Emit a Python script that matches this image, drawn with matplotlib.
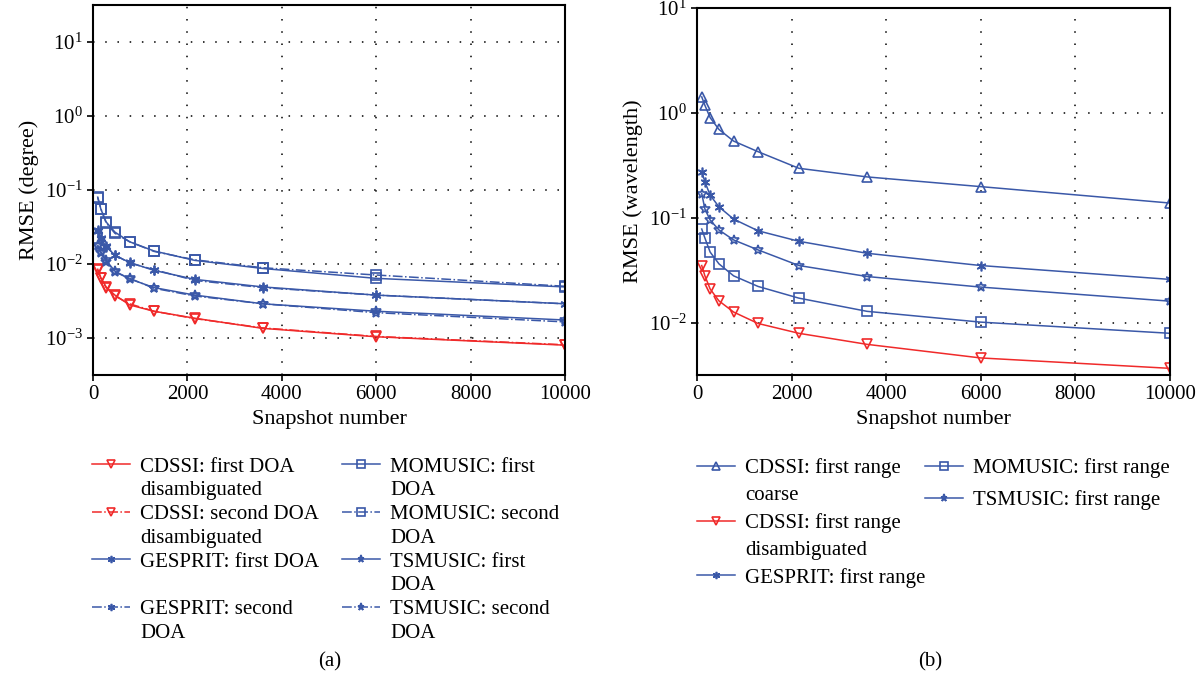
import matplotlib
matplotlib.use("Agg")
import matplotlib.pyplot as plt
from matplotlib.lines import Line2D

plt.rcParams['font.family'] = ['Liberation Serif', 'DejaVu Serif']
plt.rcParams['mathtext.fontset'] = 'custom'
plt.rcParams['mathtext.rm'] = 'Liberation Serif'
plt.rcParams['mathtext.it'] = 'Liberation Serif:italic'

# snapshot numbers
snapshots = [100, 167, 278, 464, 774, 1292, 2154, 3594, 5995, 10000]

# (a) RMSE in degree
cdssi_doa1 = [0.0085, 0.0065, 0.0049, 0.0038, 0.0028, 0.0023, 0.00185, 0.00135, 0.00104, 0.00080]
cdssi_doa2 = [0.0083, 0.0064, 0.0048, 0.0037, 0.0029, 0.0023, 0.00183, 0.00137, 0.00105, 0.00081]
gesprit_doa1 = [0.0283, 0.0216, 0.0174, 0.0131, 0.0105, 0.0082, 0.0062, 0.0049, 0.0038, 0.0029]
gesprit_doa2 = [0.0290, 0.0225, 0.0170, 0.0133, 0.0103, 0.0084, 0.0060, 0.0048, 0.0038, 0.0029]
momusic_doa1 = [0.080, 0.055, 0.037, 0.027, 0.020, 0.0150, 0.0112, 0.0087, 0.0064, 0.0049]
momusic_doa2 = [0.079, 0.056, 0.036, 0.026, 0.020, 0.0148, 0.0114, 0.0089, 0.0071, 0.0050]
tsmusic_doa1 = [0.0175, 0.0146, 0.0112, 0.0080, 0.0063, 0.0048, 0.0038, 0.0029, 0.0023, 0.00175]
tsmusic_doa2 = [0.0180, 0.0140, 0.0108, 0.0078, 0.0064, 0.0047, 0.0037, 0.0029, 0.0022, 0.00165]

# (b) RMSE in wavelength
cdssi_coarse = [1.42, 1.18, 0.90, 0.695, 0.538, 0.426, 0.296, 0.245, 0.198, 0.138]
cdssi_disamb = [0.035, 0.0279, 0.0209, 0.0161, 0.0126, 0.0098, 0.0079, 0.0062, 0.0046, 0.00366]
gesprit_range = [0.275, 0.22, 0.164, 0.127, 0.097, 0.075, 0.0596, 0.0458, 0.035, 0.0258]
momusic_range = [0.078, 0.064, 0.047, 0.0363, 0.0279, 0.0221, 0.0171, 0.0128, 0.0101, 0.0079]
tsmusic_range = [0.170, 0.121, 0.095, 0.0764, 0.0614, 0.0493, 0.035, 0.0275, 0.0218, 0.016]

blue = '#3a58a8'
red = '#f02a2a'
asterisk = (6, 2, 0)

fig = plt.figure(figsize=(11.98, 6.81), dpi=100)
ax1 = fig.add_axes([93/1198, 1-375/681, (565-93)/1198, 370/681])
ax2 = fig.add_axes([697/1198, 1-375/681, (1170-697)/1198, 367/681])

kw = dict(fillstyle='none', lw=1.1, markersize=7, mew=1.2)

# left panel
l1, = ax1.plot(snapshots, cdssi_doa1, '-', color=red, marker='v', **kw)
l2, = ax1.plot(snapshots, cdssi_doa2, '-.', color=red, marker='v', **kw)
l3, = ax1.plot(snapshots, gesprit_doa1, '-', color=blue, marker=asterisk, **kw)
l4, = ax1.plot(snapshots, gesprit_doa2, '-.', color=blue, marker=asterisk, **kw)
l5, = ax1.plot(snapshots, momusic_doa1, '-', color=blue, marker='s', **kw)
l6, = ax1.plot(snapshots, momusic_doa2, '-.', color=blue, marker='s', **kw)
l7, = ax1.plot(snapshots, tsmusic_doa1, '-', color=blue, marker='*', **kw)
l8, = ax1.plot(snapshots, tsmusic_doa2, '-.', color=blue, marker='*', **kw)
ax1.set_ylim(10**-3.5, 10**1.5)
ax1.set_ylabel('RMSE (degree)', fontsize=16)

# right panel
r1, = ax2.plot(snapshots, cdssi_coarse, '-', color=blue, marker='^', **kw)
r2, = ax2.plot(snapshots, cdssi_disamb, '-', color=red, marker='v', **kw)
r3, = ax2.plot(snapshots, gesprit_range, '-', color=blue, marker=asterisk, **kw)
r4, = ax2.plot(snapshots, momusic_range, '-', color=blue, marker='s', **kw)
r5, = ax2.plot(snapshots, tsmusic_range, '-', color=blue, marker='*', **kw)
ax2.set_ylim(10**-2.5, 10**1)
ax2.set_ylabel('RMSE (wavelength)', fontsize=16)

for ax in (ax1, ax2):
    ax.set_yscale('log')
    ax.set_xlim(0, 10000)
    ax.set_xticks([0, 2000, 4000, 6000, 8000, 10000])
    ax.minorticks_off()
    ax.grid(True, color='black', linestyle=(0, (1, 7)), linewidth=1.1)
    ax.tick_params(labelsize=15, length=4, width=1.2)
    ax.set_xlabel('Snapshot number', fontsize=16)
    for s in ax.spines.values():
        s.set_linewidth(1.5)

blank = Line2D([], [], linestyle='none')
lkw = dict(frameon=False, fontsize=15, handlelength=1.8, handletextpad=0.5,
           borderpad=0, borderaxespad=0, loc='upper left', markerscale=0.75)

fig.legend([l1, blank, l2, blank, l3, blank, l4, blank],
           ['CDSSI: first DOA', 'disambiguated', 'CDSSI: second DOA', 'disambiguated',
            'GESPRIT: first DOA', ' ', 'GESPRIT: second', 'DOA'],
           bbox_to_anchor=(92/1198, 1-457/681), labelspacing=0.2, **lkw)
fig.legend([l5, blank, l6, blank, l7, blank, l8, blank],
           ['MOMUSIC: first', 'DOA', 'MOMUSIC: second', 'DOA',
            'TSMUSIC: first', 'DOA', 'TSMUSIC: second', 'DOA'],
           bbox_to_anchor=(342/1198, 1-457/681), labelspacing=0.2, **lkw)
fig.legend([r1, blank, r2, blank, r3],
           ['CDSSI: first range', 'coarse', 'CDSSI: first range', 'disambiguated',
            'GESPRIT: first range'],
           bbox_to_anchor=(697/1198, 1-458/681), labelspacing=0.37, **lkw)
fig.legend([r4, r5],
           ['MOMUSIC: first range', 'TSMUSIC: first range'],
           bbox_to_anchor=(925/1198, 1-458/681), labelspacing=0.6, **lkw)

fig.text(330/1198, 1-662/681, '(a)', fontsize=15, ha='center', va='center')
fig.text(930/1198, 1-662/681, '(b)', fontsize=15, ha='center', va='center')

fig.savefig('out.png', dpi=100)
